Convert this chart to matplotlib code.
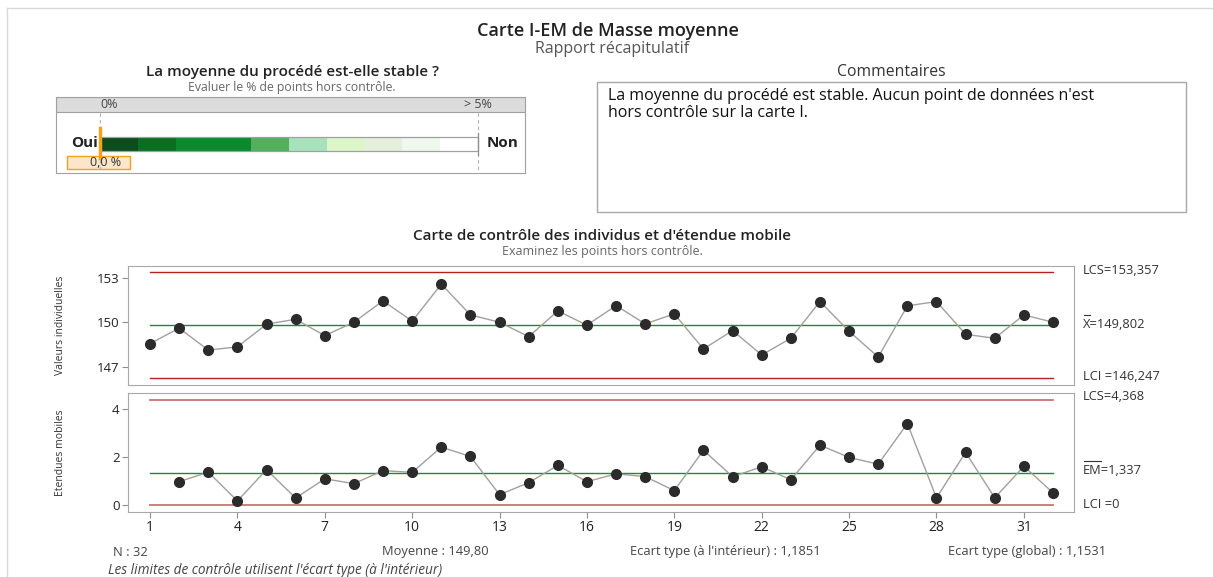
import matplotlib.pyplot as plt
from matplotlib.patches import Rectangle
from matplotlib.lines import Line2D

W, H = 1213, 577

# individual values
individual = [148.56, 149.60, 148.13, 148.34, 149.87, 150.20, 149.10, 150.00,
              151.44, 150.07, 152.56, 150.49, 150.00, 149.03, 150.76, 149.80,
              151.12, 149.89, 150.56, 148.20, 149.44, 147.80, 148.92, 151.39,
              149.39, 147.66, 151.10, 151.39, 149.19, 148.92, 150.49, 150.00]
# moving ranges (obs 2..32)
moving_range = [0.97, 1.37, 0.17, 1.47, 0.29, 1.09, 0.89, 1.43, 1.36, 2.41,
                2.02, 0.43, 0.93, 1.65, 0.97, 1.30, 1.18, 0.60, 2.28, 1.18,
                1.59, 1.05, 2.49, 1.98, 1.70, 3.39, 0.30, 2.19, 0.30, 1.61, 0.51]
obs = list(range(1, 33))
obs_mr = list(range(2, 33))
x_ticks = [1, 4, 7, 10, 13, 16, 19, 22, 25, 28, 31]

i_center, i_ucl, i_lcl = 149.802, 153.357, 146.247
mr_center, mr_ucl, mr_lcl = 1.337, 4.368, 0.0

# gauge bands (% of points out of control)
gauge_edges = [0, 0.5, 1, 2, 2.5, 3, 3.5, 4, 4.5, 5]
gauge_colors = ['#0b4d1c', '#08701f', '#0a8a2c', '#52b05c', '#a7e2bd',
                '#dcf5c9', '#e5efdb', '#f0f7ee', '#ffffff']
pct_out = 0.0

plt.rcParams['font.family'] = ['Open Sans', 'DejaVu Sans']

fig = plt.figure(figsize=(W / 100, H / 100), dpi=100)


def px(x, y):
    return x / W, 1 - y / H


def add_ax(l, t, r, b):
    return fig.add_axes([l / W, 1 - b / H, (r - l) / W, (b - t) / H])


def text(x, y, s, **kw):
    kw.setdefault('va', 'center')
    fig.text(*px(x, y), s, **kw)


def hline(x0, x1, y, **kw):
    fig.add_artist(Line2D([x0 / W, x1 / W], [1 - y / H, 1 - y / H],
                          transform=fig.transFigure, **kw))


# outer frame (top and left)
hline(7, W, 8, color='#d9d9d9', lw=1)
fig.add_artist(Line2D([7 / W, 7 / W], [0, 1 - 8 / H], transform=fig.transFigure,
                      color='#d9d9d9', lw=1))

# titles
text(608, 31, 'Carte I-EM de Masse moyenne', ha='center', fontsize=13,
     color='#222222', fontweight='semibold')
text(612, 49, 'Rapport récapitulatif', ha='center', fontsize=11.5, color='#555555')

# ---- gauge ----
text(292, 72, 'La moyenne du procédé est-elle stable ?', ha='center',
     fontsize=11, color='#222222', fontweight='semibold')
text(292, 87, 'Evaluer le % de points hors contrôle.', ha='center',
     fontsize=8.8, color='#666666')

gx0, gx1 = 100, 478
scale = (gx1 - gx0) / 5.0
gax = add_ax(56, 97, 525, 173)
gax.set_xlim((56 - gx0) / scale, (525 - gx0) / scale)
gax.set_ylim(173, 97)
gax.set_xticks([])
gax.set_yticks([])
for s in gax.spines.values():
    s.set_color('#a0a0a0')
gax.add_patch(Rectangle((gax.get_xlim()[0], 97), 20, 15, fc='#dcdcdc',
                        ec='#a0a0a0', lw=0.8))
for a, b, c in zip(gauge_edges[:-1], gauge_edges[1:], gauge_colors):
    gax.barh(144, b - a, left=a, height=14, color=c, lw=0)
gax.add_patch(Rectangle((0, 137), 5, 14, fill=False, ec='#a0a0a0', lw=0.9))
for v in [0, 5]:
    gax.plot([v, v], [113, 173], ls=(0, (3, 3)), color='#b0b0b0', lw=0.8)
gax.plot([5, 5], [133, 155], color='#909090', lw=0.9)
gax.text(0.12, 105, '0%', fontsize=9, color='#444444', ha='center', va='center')
gax.text(5, 105, '> 5%', fontsize=9, color='#444444', ha='center', va='center')
gax.text(-0.03, 143, 'Oui', fontsize=11, fontweight='bold', ha='right',
         va='center', color='#222222')
gax.text(5.12, 143, 'Non', fontsize=11, fontweight='bold', ha='left',
         va='center', color='#222222')
gax.plot([pct_out, pct_out], [128, 158], color='#f5a21b', lw=2.5)
gax.add_patch(Rectangle(((67 - gx0) / scale, 156), 63 / scale, 13,
                        fc='#fbe6cc', ec='#f5a21b', lw=1))
gax.text(pct_out + 0.07, 162.5, '0,0 %', fontsize=9, ha='center', va='center',
         color='#333333')

# ---- comments ----
text(891, 72, 'Commentaires', ha='center', fontsize=11.3, color='#333333')
fig.add_artist(Rectangle(px(597, 212), (1186 - 597) / W, (212 - 82) / H,
                         transform=fig.transFigure, fill=False, ec='#a8a8a8', lw=1))
text(608, 96, "La moyenne du procédé est stable. Aucun point de données n'est",
     fontsize=11.5, color='#111111')
text(608, 113, 'hors contrôle sur la carte I.', fontsize=11.5, color='#111111')

# ---- control charts ----
text(602, 236, "Carte de contrôle des individus et d'étendue mobile", ha='center',
     fontsize=11, color='#222222', fontweight='semibold')
text(602, 252, 'Examinez les points hors contrôle.', ha='center', fontsize=9,
     color='#666666')

xl = (1 - 22 / 29.13, 32 + 21 / 29.13)


def style(ax):
    for s in ax.spines.values():
        s.set_color('#a8a8a8')
    ax.tick_params(axis='both', length=4, color='#909090', labelsize=9.5,
                   labelcolor='#222222', pad=2)
    ax.set_xlim(*xl)


iax = add_ax(128, 266, 1074, 385)
style(iax)
iax.plot(obs, individual, color='#a0a0a0', lw=1, marker='o', ms=7,
         mfc='#2b2b2b', mec='#2b2b2b', zorder=3)
iax.plot([1, 32], [i_ucl, i_ucl], color='#b22222', lw=1)
iax.plot([1, 32], [i_lcl, i_lcl], color='#b22222', lw=1)
iax.plot([1, 32], [i_center, i_center], color='#1e8a2e', lw=1)
iax.set_ylim(145.78, 153.78)
iax.set_yticks([147, 150, 153])
iax.set_xticks([])
iax.set_ylabel('Valeurs individuelles', fontsize=7.5, color='#333333')
iax.yaxis.set_label_coords(-62 / 946, 0.5)

max_ = add_ax(128, 393, 1074, 512)
style(max_)
max_.plot(obs_mr, moving_range, color='#a0a0a0', lw=1, marker='o', ms=7,
          mfc='#2b2b2b', mec='#2b2b2b', zorder=3)
max_.plot([1, 32], [mr_ucl, mr_ucl], color='#c87474', lw=1.3)
max_.plot([1, 32], [mr_lcl, mr_lcl], color='#c87474', lw=1.3)
max_.plot([1, 32], [mr_center, mr_center], color='#1e8a2e', lw=1)
max_.set_ylim(-0.29, 4.66)
max_.set_yticks([0, 2, 4])
max_.set_xticks(x_ticks)
max_.tick_params(axis='x', labelsize=10)
max_.set_ylabel('Etendues mobiles', fontsize=7.5, color='#333333')
max_.yaxis.set_label_coords(-62 / 946, 0.5)

# limit labels on the right
lab = dict(fontsize=9.3, color='#333333', ha='left')
text(1083, 271, 'LCS=153,357', **lab)
text(1083, 325, 'X=149,802', **lab)
hline(1084, 1090, 315, color='#333333', lw=0.8)
text(1083, 377, 'LCI =146,247', **lab)
text(1083, 397, 'LCS=4,368', **lab)
text(1083, 471, 'EM=1,337', **lab)
hline(1084, 1101, 461, color='#333333', lw=0.8)
text(1083, 504, 'LCI =0', **lab)

# stats footer
foot = dict(fontsize=9.3, color='#444444')
text(113, 552, 'N : 32', **foot)
text(382, 552, 'Moyenne : 149,80', **foot)
text(630, 552, "Ecart type (à l'intérieur) : 1,1851", **foot)
text(948, 552, 'Ecart type (global) : 1,1531', **foot)
text(108, 571, "Les limites de contrôle utilisent l'écart type (à l'intérieur)",
     fontsize=9.8, color='#444444', style='italic')

fig.savefig('out.png', dpi=100)
